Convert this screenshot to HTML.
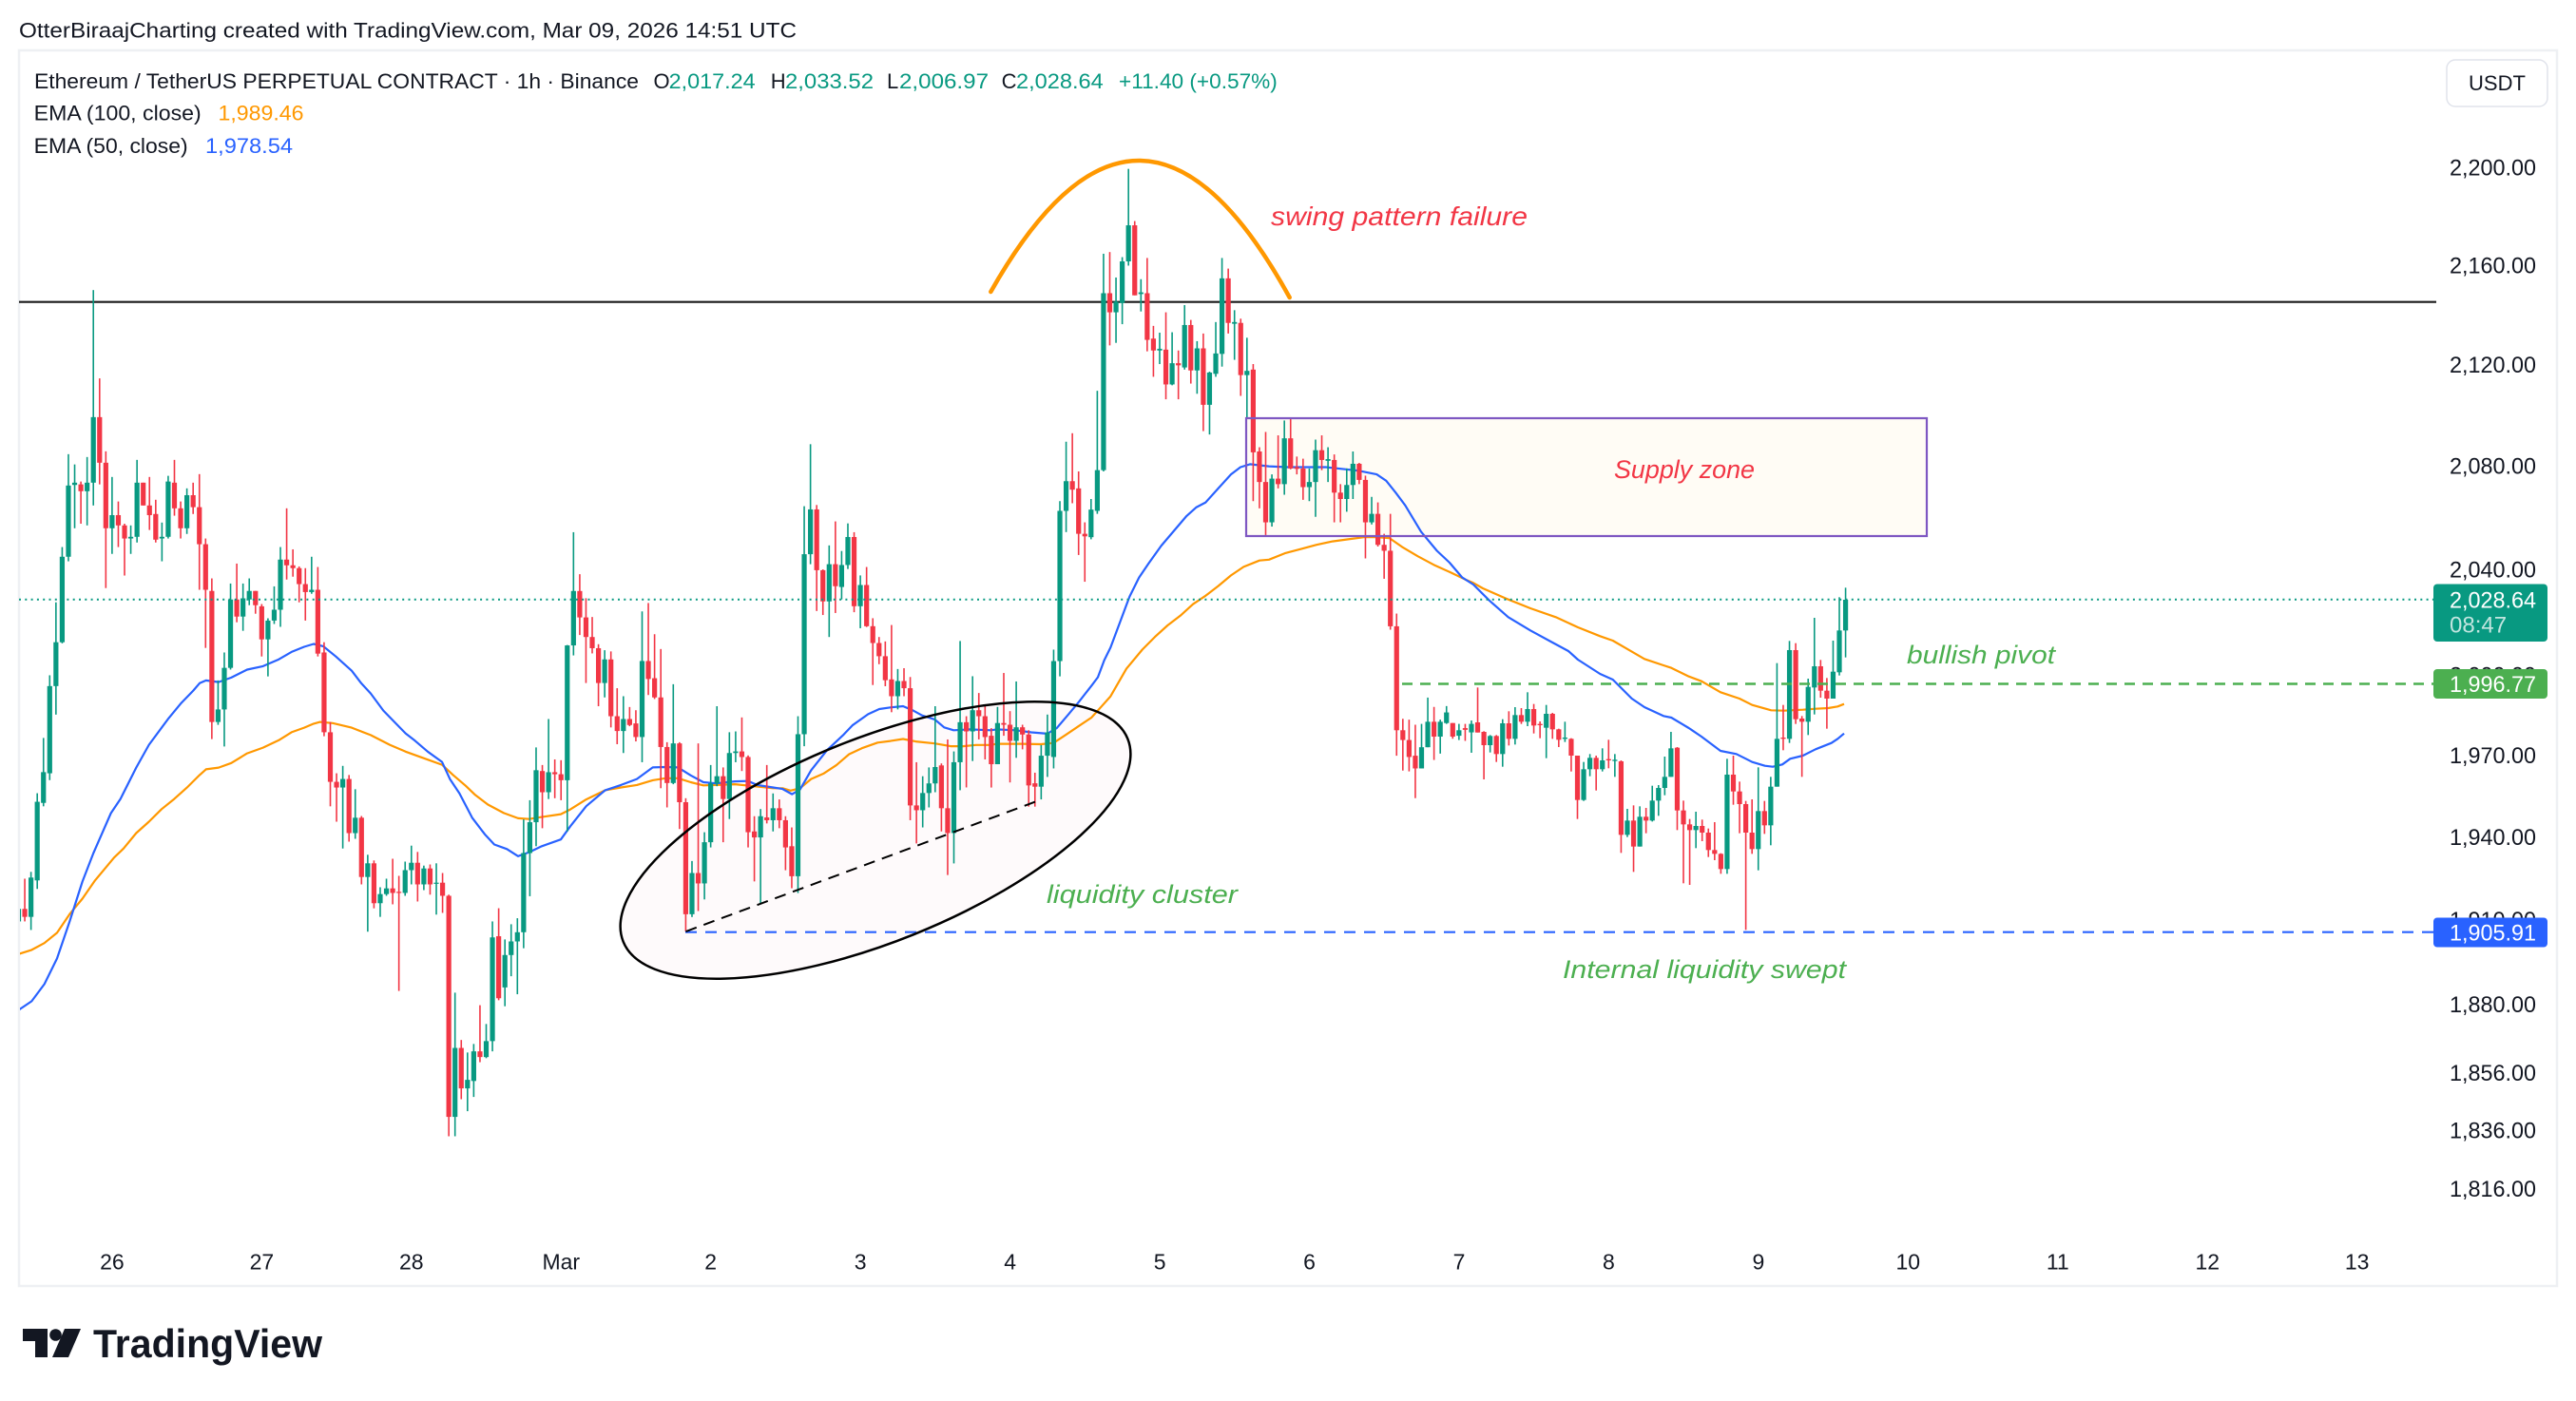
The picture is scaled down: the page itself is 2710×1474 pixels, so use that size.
<!DOCTYPE html>
<html>
<head>
<meta charset="utf-8">
<style>
  html,body{margin:0;padding:0;background:#fff;}
  svg{display:block;}
  text{font-family:"Liberation Sans",sans-serif;}
</style>
</head>
<body>
<svg id="s" width="2710" height="1474" viewBox="0 0 2710 1474" xmlns="http://www.w3.org/2000/svg">
  <rect x="0" y="0" width="2710" height="1474" fill="#ffffff"/>
  <defs>
    <clipPath id="plot"><rect x="21" y="54" width="2540" height="1270"/></clipPath>
  </defs>

  <!-- header -->
  <text x="20" y="39.5" font-size="22" fill="#131722" textLength="818" lengthAdjust="spacingAndGlyphs">OtterBiraajCharting created with TradingView.com, Mar 09, 2026 14:51 UTC</text>

  <!-- pane border -->
  <rect x="20" y="53" width="2670" height="1300" fill="none" stroke="#eef0f3" stroke-width="2.5"/>

  <!-- supply zone fill -->
  <rect x="1311" y="440" width="716" height="124" fill="#fffcf5"/>
  <!-- ellipse fill -->
  <ellipse cx="921" cy="884" rx="286" ry="107" transform="rotate(-21.9 921 884)" fill="#e91e63" fill-opacity="0.025"/>

  <!-- horizontal black level -->
  <line x1="20" y1="317.7" x2="2563" y2="317.7" stroke="#1a1a1a" stroke-width="2.2"/>

  <g clip-path="url(#plot)">
    <path id="ema100" d="" fill="none" stroke="#ff9800" stroke-width="2.2" stroke-linejoin="round"/>
    <path id="ema50" d="" fill="none" stroke="#2962ff" stroke-width="2.2" stroke-linejoin="round"/>
    <g id="cd"></g>
  </g>

  <!-- current price dotted line -->
  <line x1="20" y1="630.7" x2="2560" y2="630.7" stroke="#089981" stroke-width="2" stroke-dasharray="2 4.3"/>
  <!-- bullish pivot dashed -->
  <line x1="1475" y1="719.5" x2="2560" y2="719.5" stroke="#4caf50" stroke-width="2.4" stroke-dasharray="11 8"/>
  <!-- internal liquidity dashed -->
  <line x1="721" y1="980.7" x2="2560" y2="980.7" stroke="#2962ff" stroke-width="2.2" stroke-dasharray="12 9"/>

  <!-- supply zone border -->
  <rect x="1311" y="440" width="716" height="124" fill="none" stroke="#7e57c2" stroke-width="2.2"/>
  <!-- ellipse outline -->
  <ellipse cx="921" cy="884" rx="286" ry="107" transform="rotate(-21.9 921 884)" fill="none" stroke="#000" stroke-width="2.5"/>
  <!-- dashed trend inside ellipse -->
  <line x1="721.5" y1="980" x2="1093.3" y2="842" stroke="#000" stroke-width="2" stroke-dasharray="12 8"/>
  <!-- swing arc -->
  <path d="M1042.3,307 Q1200,28 1356.7,313" fill="none" stroke="#ff9800" stroke-width="4.5" stroke-linecap="round"/>

  <!-- annotations -->
  <text x="1337" y="237" font-size="28" font-style="italic" fill="#f23645" textLength="270" lengthAdjust="spacingAndGlyphs">swing pattern failure</text>
  <text x="1698" y="503" font-size="27" font-style="italic" fill="#f23645" textLength="148" lengthAdjust="spacingAndGlyphs">Supply zone</text>
  <text x="2006" y="698" font-size="27" font-style="italic" fill="#4caf50" textLength="156" lengthAdjust="spacingAndGlyphs">bullish pivot</text>
  <text x="1101" y="950" font-size="27" font-style="italic" fill="#4caf50" textLength="201" lengthAdjust="spacingAndGlyphs">liquidity cluster</text>
  <text x="1644" y="1029" font-size="27" font-style="italic" fill="#4caf50" textLength="298" lengthAdjust="spacingAndGlyphs">Internal liquidity swept</text>

  <!-- legend -->
  <g font-size="22" fill="#131722">
    <text x="36" y="93" textLength="636" lengthAdjust="spacingAndGlyphs">Ethereum / TetherUS PERPETUAL CONTRACT · 1h · Binance</text>
    <text x="687.5" y="93">O</text>
    <text x="703.6" y="93" fill="#089981" textLength="91" lengthAdjust="spacingAndGlyphs">2,017.24</text>
    <text x="810.7" y="93">H</text>
    <text x="826" y="93" fill="#089981" textLength="93" lengthAdjust="spacingAndGlyphs">2,033.52</text>
    <text x="933" y="93">L</text>
    <text x="946" y="93" fill="#089981" textLength="94" lengthAdjust="spacingAndGlyphs">2,006.97</text>
    <text x="1053.6" y="93">C</text>
    <text x="1069" y="93" fill="#089981" textLength="91.7" lengthAdjust="spacingAndGlyphs">2,028.64</text>
    <text x="1177" y="93" fill="#089981" textLength="166.8" lengthAdjust="spacingAndGlyphs">+11.40 (+0.57%)</text>
    <text x="35.7" y="126.5" textLength="176" lengthAdjust="spacingAndGlyphs">EMA (100, close)</text>
    <text x="229.5" y="126.5" fill="#ff9800" textLength="90" lengthAdjust="spacingAndGlyphs">1,989.46</text>
    <text x="35.7" y="161" textLength="162" lengthAdjust="spacingAndGlyphs">EMA (50, close)</text>
    <text x="216" y="161" fill="#2962ff" textLength="92" lengthAdjust="spacingAndGlyphs">1,978.54</text>
  </g>

  <!-- USDT button -->
  <rect x="2574" y="63" width="106" height="49" rx="9" ry="9" fill="#fff" stroke="#e0e3eb" stroke-width="1.5"/>
  <text x="2627" y="95" font-size="22" fill="#131722" text-anchor="middle">USDT</text>

  <!-- price axis ticks -->
  <g font-size="24" fill="#131722" text-anchor="end">
    <text x="2668" y="184.6" textLength="91" lengthAdjust="spacingAndGlyphs">2,200.00</text>
    <text x="2668" y="287.4" textLength="91" lengthAdjust="spacingAndGlyphs">2,160.00</text>
    <text x="2668" y="392" textLength="91" lengthAdjust="spacingAndGlyphs">2,120.00</text>
    <text x="2668" y="498.7" textLength="91" lengthAdjust="spacingAndGlyphs">2,080.00</text>
    <text x="2668" y="607.5" textLength="91" lengthAdjust="spacingAndGlyphs">2,040.00</text>
    <text x="2668" y="718.3" textLength="91" lengthAdjust="spacingAndGlyphs">2,000.00</text>
    <text x="2668" y="803" textLength="91" lengthAdjust="spacingAndGlyphs">1,970.00</text>
    <text x="2668" y="888.9" textLength="91" lengthAdjust="spacingAndGlyphs">1,940.00</text>
    <text x="2668" y="976.2" textLength="91" lengthAdjust="spacingAndGlyphs">1,910.00</text>
    <text x="2668" y="1064.8" textLength="91" lengthAdjust="spacingAndGlyphs">1,880.00</text>
    <text x="2668" y="1136.8" textLength="91" lengthAdjust="spacingAndGlyphs">1,856.00</text>
    <text x="2668" y="1197.5" textLength="91" lengthAdjust="spacingAndGlyphs">1,836.00</text>
    <text x="2668" y="1258.8" textLength="91" lengthAdjust="spacingAndGlyphs">1,816.00</text>
  </g>

  <!-- price labels -->
  <rect x="2560" y="614.5" width="120" height="60.5" rx="4" fill="#089981"/>
  <text x="2668" y="639.6" font-size="24" fill="#ffffff" text-anchor="end" textLength="91" lengthAdjust="spacingAndGlyphs">2,028.64</text>
  <text x="2577" y="665.6" font-size="24" fill="#ffffff" fill-opacity="0.75">08:47</text>

  <rect x="2560" y="704" width="120" height="31" rx="4" fill="#4caf50"/>
  <text x="2668" y="728.1" font-size="24" fill="#ffffff" text-anchor="end" textLength="91" lengthAdjust="spacingAndGlyphs">1,996.77</text>

  <rect x="2560" y="965.5" width="120" height="31" rx="4" fill="#2962ff"/>
  <text x="2668" y="989.6" font-size="24" fill="#ffffff" text-anchor="end" textLength="91" lengthAdjust="spacingAndGlyphs">1,905.91</text>

  <!-- time axis -->
  <g font-size="23" fill="#131722" text-anchor="middle">
    <text x="117.9" y="1335.5">26</text>
    <text x="275.4" y="1335.5">27</text>
    <text x="432.8" y="1335.5">28</text>
    <text x="590.3" y="1335.5">Mar</text>
    <text x="747.7" y="1335.5">2</text>
    <text x="905.2" y="1335.5">3</text>
    <text x="1062.6" y="1335.5">4</text>
    <text x="1220.1" y="1335.5">5</text>
    <text x="1377.5" y="1335.5">6</text>
    <text x="1535" y="1335.5">7</text>
    <text x="1692.4" y="1335.5">8</text>
    <text x="1849.9" y="1335.5">9</text>
    <text x="2007.3" y="1335.5">10</text>
    <text x="2164.8" y="1335.5">11</text>
    <text x="2322.3" y="1335.5">12</text>
    <text x="2479.7" y="1335.5">13</text>
  </g>

  <!-- TradingView logo -->
  <g fill="#131722">
    <rect x="24" y="1398" width="26" height="13"/>
    <rect x="37" y="1398" width="13" height="30"/>
    <circle cx="58.5" cy="1404.5" r="6.3"/>
    <polygon points="68,1398 85,1398 72,1428 55,1428"/>
  </g>
  <text x="98" y="1428" font-size="42" font-weight="bold" fill="#131722" textLength="241" lengthAdjust="spacingAndGlyphs">TradingView</text>
</svg>

<script>
(function(){
  var T6=[function(z){return 10+z/3;},function(z){return 280+z/1.668;}];
  var T7=[function(z){return 520+z/3;},function(z){return 400+z/2.376;}];
  var T8=[function(z){return 1035+z/3;},function(z){return 150+z/2.24;}];
  var T9=[function(z){return 1550+z/3;},function(z){return 560+z/3;}];

  var C6=[[1,1128,1150,1115,1165],[0,1128,1142,1075,1150],[1,1073,1142,1063,1165],[1,940,1078,925,1093],[1,888,942,828,948],[1,737,890,718,902],[1,660,737,590,787],[1,510,660,493,662],[1,385,510,330,518],[1,380,384,348,460],[0,383,395,378,452],[1,380,395,335,455],[1,265,380,42,420],[0,265,345,197,383],[0,345,460,325,565],[1,437,460,370,505],[0,437,455,413,493],[0,455,478,452,543],[1,475,478,455,505],[1,380,475,340,485],[0,380,420,380,420],[0,420,437,370,463],[0,435,480,410,485],[1,475,478,450,518],[1,378,475,368,478],[0,380,425,340,438],[0,425,460,413,478],[1,402,460,390,470],[0,402,423,380,435],[0,423,488,365,568],[0,488,568,478,670],[0,570,800,548,830],[1,778,800,727,805],[1,705,778,678,843],[1,585,705,557,708],[0,585,615,522,625],[1,583,615,557,640],[1,570,585,548,595],[0,570,595,570,610],[0,597,655,593,685],[1,622,655,618,720],[1,603,622,562,628],[1,515,603,493,633],[0,515,525,425,550],[0,525,530,497,545],[0,530,558,527,590],[0,558,572,530,622],[1,568,572,510,575],[0,568,680,528,685],[0,678,818,660,825],[0,818,905,800,948],[0,905,915,890,975],[1,900,915,877,1022],[0,900,995,893,1010],[1,968,995,918,1005],[0,968,1072,965,1085],[1,1048,1072,1033,1168],[0,1048,1118,1043,1127],[1,1102,1118,1090,1142],[1,1092,1102,1075,1105],[0,1092,1100,1040,1120],[0,1098,1100,1070,1272],[1,1060,1100,1045,1105],[1,1047,1060,1017,1085],[0,1047,1085,1028,1115],[1,1057,1085,1052,1095],[0,1057,1085,1050,1103],[1,1082,1084,1048,1138],[0,1082,1105,1065,1135],[0,1105,1493,1103,1527],[1,1372,1493,1275,1527],[0,1372,1443,1358,1462],[1,1428,1443,1380,1483],[1,1378,1430,1365,1458],[0,1378,1388,1297,1397],[1,1360,1388,1330,1390],[1,1178,1360,1150,1378]];

  var C7=[[0,1390,1545,1320,1550],[1,1437,1518,1398,1565],[1,1403,1437,1360,1490],[1,1380,1403,1345,1535],[1,1182,1380,1098,1420],[1,1105,1182,1050,1290],[1,975,1105,918,1165],[0,977,1030,962,1120],[1,980,1030,847,1047],[0,980,985,948,1045],[0,985,1000,950,1050],[1,663,1000,662,1128],[1,527,663,380,688],[0,527,593,485,637],[0,593,642,545,757],[0,642,670,592,683],[0,670,757,660,815],[1,698,757,675,793],[0,698,840,678,868],[0,840,877,770,910],[1,847,877,790,932],[0,847,862,817,865],[0,858,892,825,903],[1,702,892,578,955],[0,702,747,557,787],[0,745,793,635,797],[0,793,917,672,1020],[0,917,1007,905,1068],[1,908,1007,760,1010],[0,908,1055,905,1122],[0,1055,1335,1045,1378],[1,1232,1335,1202,1342],[0,1232,1258,908,1327],[1,1155,1258,1130,1298],[1,1008,1155,962,1168],[1,990,1008,815,1015],[0,990,1047,968,1155],[1,932,1047,880,1097],[1,928,932,878,955],[0,928,942,843,977],[0,942,1130,938,1168],[0,1128,1143,1090,1253],[1,1090,1143,1072,1308],[0,1093,1100,962,1108],[1,1070,1100,1033,1128],[0,1070,1100,1048,1120],[0,1100,1168,1090,1225],[0,1165,1240,1118,1270],[1,885,1240,840,1282],[1,435,885,315,915],[1,323,435,160,460],[0,323,475,312,577],[0,475,553,473,587],[1,460,553,413,642],[0,460,515,353,582],[1,462,517,427,548],[1,392,462,358,472],[0,392,565,380,580],[1,512,565,488,620],[0,512,615,467,617],[0,615,657,595,762],[0,657,690,642,710],[0,690,750,653,765],[0,748,790,612,830],[1,752,790,722,823],[0,752,770,720,790],[0,770,1063,742,1100],[0,1063,1075,955,1158],[1,1032,1075,990,1118],[1,1008,1032,968,1068],[1,967,1008,815,1030],[0,963,1070,958,1128],[0,1070,1132,898,1237],[1,955,1132,928,1208],[1,855,955,652,1025],[0,855,878,840,1018],[1,825,878,740,952],[0,825,840,782,898],[0,840,892,812,948]];

  var C8=[[0,1398,1465,1380,1520],[1,1368,1465,1330,1465],[0,1368,1372,1250,1398],[0,1372,1410,1340,1508],[1,1378,1410,1270,1450],[0,1378,1395,1372,1430],[0,1395,1515,1385,1565],[0,1510,1518,1485,1565],[1,1445,1518,1420,1548],[1,1390,1445,1348,1495],[1,1222,1448,1195,1475],[1,868,1222,845,1258],[1,798,868,705,918],[0,798,818,685,850],[0,815,922,775,972],[0,922,928,895,1035],[1,865,930,840,935],[1,772,868,585,875],[1,355,772,262,775],[0,355,400,258,478],[1,375,400,318,472],[1,280,378,270,428],[1,195,280,62,290],[0,195,360,185,360],[1,353,357,322,398],[0,355,465,272,492],[0,462,490,432,552],[1,486,490,448,522],[0,488,570,400,605],[1,520,570,447,572],[0,520,525,490,605],[1,430,530,383,535],[0,430,537,418,568],[1,485,537,468,592],[0,485,618,450,680],[1,542,618,540,688],[1,497,545,423,552],[1,320,498,272,528],[0,320,425,297,450],[1,423,427,395,512],[0,425,548,415,597],[1,538,548,460,650],[0,535,730,522,845],[0,728,800,718,862],[0,800,895,682,925],[1,792,895,782,905],[0,792,805,690,815],[1,697,805,655,830],[0,697,768,650,770],[0,765,769,740,782],[0,768,812,745,842],[1,800,812,768,845],[1,725,800,700,882],[0,725,748,690,772],[1,746,750,718,800],[0,748,825,735,895],[0,825,840,805,895],[1,807,840,768,870],[1,757,807,728,840],[0,757,795,755,805],[0,795,895,785,980],[1,875,895,835,900],[0,875,948,848,952],[0,948,962,922,1028],[0,962,1140,875,1148],[0,1140,1385,1110,1445],[0,1385,1408,1358,1480],[0,1408,1448,1360,1482],[0,1445,1475,1372,1545],[1,1425,1475,1370,1475],[1,1365,1425,1308,1425],[0,1365,1400,1330,1455],[1,1365,1400,1360,1440],[1,1343,1368,1328,1370],[0,1368,1400,1370,1405],[1,1385,1398,1370,1408],[0,1380,1384,1370,1410],[1,1370,1390,1362,1438]];

  var C9=[[0,600,632,490,632],[0,630,672,628,780],[1,643,672,640,695],[0,643,700,640,725],[1,603,700,590,740],[0,603,652,565,673],[1,577,652,552,670],[0,577,598,555,605],[1,558,598,505,612],[0,558,610,542,635],[0,605,609,597,650],[1,573,617,545,713],[0,573,622,570,652],[0,622,655,620,678],[1,648,652,598,662],[0,652,705,650,755],[0,705,845,705,905],[1,748,845,725,848],[1,712,748,700,770],[0,712,748,705,815],[1,720,748,682,755],[0,716,720,655,745],[1,718,722,700,772],[0,723,955,720,1012],[1,910,955,873,962],[0,910,992,862,1072],[1,898,992,865,992],[0,898,910,870,950],[1,847,910,800,913],[1,807,847,798,895],[1,772,807,708,830],[1,682,772,630,772],[0,680,878,678,940],[0,878,922,847,1108],[0,922,940,905,1113],[1,927,940,882,997],[0,927,948,907,975],[0,948,1003,935,1025],[0,1003,1015,915,1035],[0,1015,1063,1013,1078],[1,765,1063,715,1078],[0,765,818,705,860],[0,818,858,787,950],[0,858,948,848,1255],[0,948,1000,843,1015],[1,880,1000,742,1067],[0,880,925,848,952],[1,803,925,772,988],[1,652,803,413,803],[0,648,652,545,688],[1,372,652,343,665],[0,372,590,350,605],[0,588,598,580,772],[1,488,598,462,640],[1,423,490,270,575],[0,423,500,403,522],[0,500,525,460,620],[1,440,525,342,525],[1,310,442,205,452],[1,213,310,175,395]];

  var X0=19.5, DX=6.56, BW=5.2, WW=1.6;
  var out=[];
  function add(arr,k0,f){
    for(var i=0;i<arr.length;i++){
      var d=arr[i], k=k0+i, x=X0+DX*k;
      var bt=f(d[1]), bb=f(d[2]), wt=f(d[3]), wb=f(d[4]);
      var top=Math.min(bt,wt), bot=Math.max(bb,wb);
      var col=d[0]?'#089981':'#f23645';
      var h=Math.max(1.2,bb-bt);
      out.push('<rect x="'+(x-WW/2).toFixed(2)+'" y="'+top.toFixed(2)+'" width="'+WW+'" height="'+(bot-top).toFixed(2)+'" fill="'+col+'"/>');
      out.push('<rect x="'+(x-BW/2).toFixed(2)+'" y="'+bt.toFixed(2)+'" width="'+BW+'" height="'+h.toFixed(2)+'" fill="'+col+'"/>');
    }
  }
  add(C6,0,T6[1]);
  add(C7,77,T7[1]);
  add(C8,156,T8[1]);
  add(C9,234,T9[1]);
  document.getElementById('cd').innerHTML=out.join('');

  var B6=[[30,1305],[70,1290],[110,1260],[150,1215],[190,1150],[230,1080],[265,1030],[320,960],[350,935],[400,880],[440,840],[500,795],[540,768],[580,745],[600,732],[620,727],[660,730],[700,722],[750,708],[800,702],[850,690],[890,677],[930,668],[960,663],[990,667],[1030,685],[1080,710],[1110,732],[1140,750],[1180,780],[1220,803],[1250,820],[1280,833],[1320,852],[1365,870],[1390,900],[1420,925],[1460,968],[1500,997],[1530,1015]];
  var B7=[[40,1172],[75,1190],[110,1180],[150,1165],[210,1148],[240,1115],[290,1065],[350,1025],[400,1012],[450,997],[500,968],[540,967],[580,968],[620,988],[660,1005],[700,1008],[760,1003],[800,1002],[830,1012],[880,1018],[910,1022],[940,1035],[965,1023],[1000,975],[1050,925],[1100,888],[1130,863],[1180,835],[1215,822],[1250,818],[1290,815],[1320,825],[1350,838],[1390,848],[1420,868],[1450,875],[1500,873],[1568,875]];
  var B8=[[40,1383],[100,1385],[150,1390],[200,1393],[230,1380],[270,1345],[300,1318],[340,1280],[360,1260],[380,1220],[400,1190],[430,1130],[460,1070],[490,1025],[520,992],[560,950],[600,915],[640,880],[670,860],[700,848],[740,815],[780,782],[810,765],[840,758],[900,763],[960,765],[1020,765],[1080,765],[1140,770],[1180,773],[1240,782],[1270,797],[1300,825],[1330,855],[1380,917],[1430,962],[1470,990],[1510,1025]];
  var B9=[[0,165],[50,215],[110,268],[180,310],[250,348],[300,375],[330,402],[400,447],[440,465],[500,525],[540,552],[600,580],[625,585],[680,618],[720,645],[780,690],[830,700],[860,715],[880,725],[920,737],[945,740],[975,733],[1000,715],[1040,705],[1080,685],[1130,665],[1150,652],[1170,635]];

  var O6=[[30,1207],[70,1200],[110,1188],[150,1170],[190,1137],[230,1110],[270,1078],[330,1038],[360,1022],[400,995],[440,975],[480,953],[520,935],[560,915],[600,893],[620,883],[660,880],[700,872],[750,855],[800,845],[850,832],[890,818],[930,810],[960,803],[980,800],[1020,802],[1080,810],[1140,823],[1200,840],[1250,852],[1300,862],[1365,875],[1400,893],[1440,912],[1470,928],[1510,945]];
  var O7=[[30,1082],[75,1095],[110,1097],[150,1092],[210,1085],[240,1073],[290,1048],[350,1025],[400,1018],[450,1012],[500,1000],[540,995],[580,995],[620,1005],[660,1013],[700,1012],[760,1010],[820,1015],[880,1020],[910,1020],[935,1026],[965,1020],[1000,997],[1040,983],[1080,962],[1120,935],[1160,920],[1210,906],[1250,902],[1290,897],[1330,903],[1390,908],[1440,915],[1480,915],[1520,912],[1568,912]];
  var O8=[[40,1417],[120,1417],[180,1418],[220,1415],[260,1395],[300,1375],[340,1355],[370,1330],[400,1305],[450,1240],[500,1195],[540,1165],[580,1138],[620,1115],[660,1088],[700,1068],[740,1045],[780,1020],[820,1000],[870,985],[900,983],[950,968],[1000,958],[1050,948],[1100,940],[1150,935],[1200,930],[1240,930],[1280,932],[1320,953],[1370,975],[1420,995],[1470,1012],[1520,1030]];
  var O9=[[0,160],[30,177],[100,208],[180,240],[260,268],[330,300],[400,328],[440,342],[480,365],[540,400],[600,420],[625,428],[680,455],[720,470],[780,505],[840,525],[880,545],[940,562],[980,563],[1040,560],[1080,557],[1120,555],[1150,550],[1170,542]];

  function conv(arr,T){return arr.map(function(p){return [T[0](p[0]),T[1](p[1])];});}
  function path(pts){
    var s='',last=-1e9;
    for(var i=0;i<pts.length;i++){
      if(pts[i][0]<=last) continue;
      s+=(s?'L':'M')+pts[i][0].toFixed(1)+','+pts[i][1].toFixed(1);
      last=pts[i][0];
    }
    return s;
  }
  var blue=[].concat(conv(B6,T6),conv(B7,T7),conv(B8,T8),conv(B9,T9));
  var orange=[].concat(conv(O6,T6),conv(O7,T7),conv(O8,T8),conv(O9,T9));
  document.getElementById('ema50').setAttribute('d',path(blue));
  document.getElementById('ema100').setAttribute('d',path(orange));
})();
</script>
</body>
</html>
